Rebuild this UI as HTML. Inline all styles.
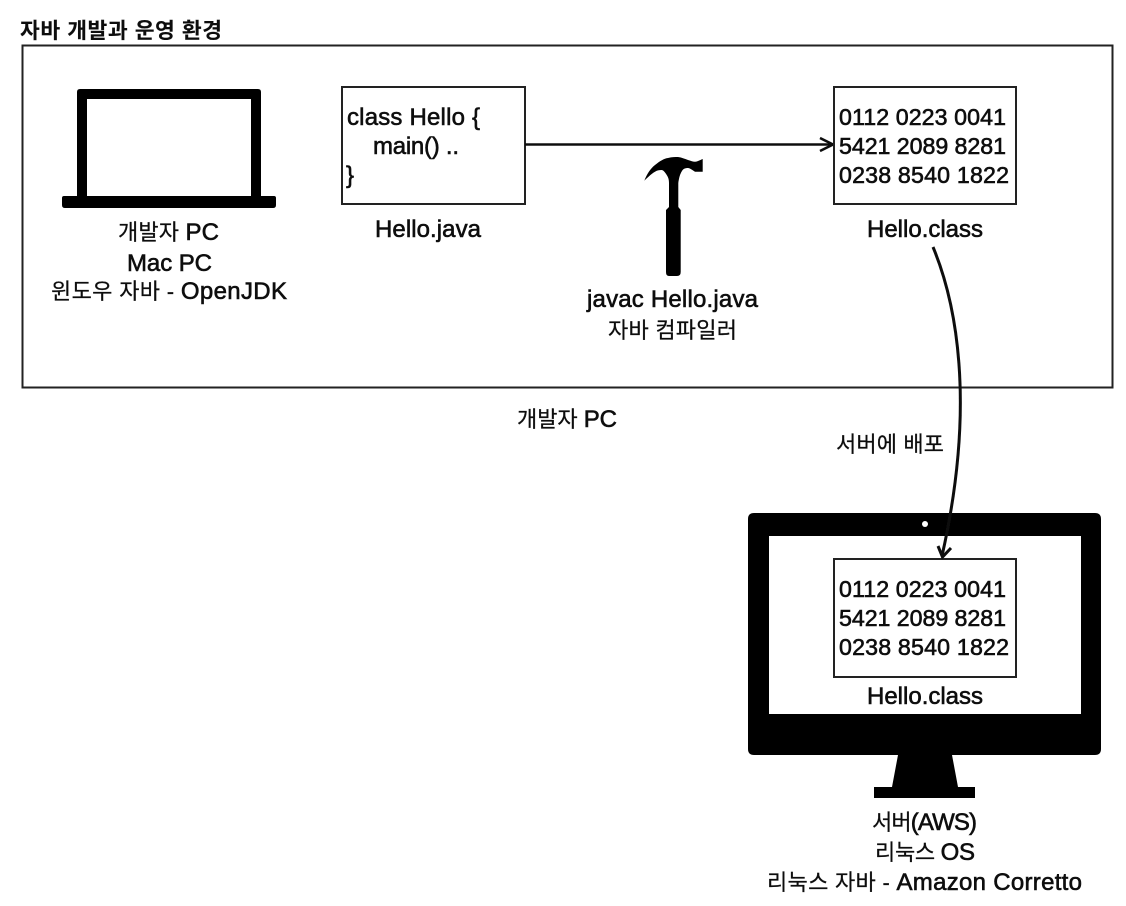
<!DOCTYPE html>
<html lang="ko">
<head>
<meta charset="utf-8">
<style>
html,body{margin:0;padding:0;background:#fff;width:1126px;height:906px;overflow:hidden}
svg{display:block}
text{font-family:"Liberation Sans","Noto Sans CJK KR",sans-serif;font-size:24px;fill:#111;stroke:#111;stroke-width:.6}
.n{font-size:23.2px}
.k{font-size:22px;stroke-width:.25}
tspan.l{font-size:24px;stroke-width:.6}
</style>
</head>
<body>
<svg width="1126" height="906" viewBox="0 0 1126 906" xmlns="http://www.w3.org/2000/svg">
<defs><filter id="b" x="-2%" y="-2%" width="104%" height="104%"><feGaussianBlur stdDeviation="0.35"/></filter></defs>
<rect width="1126" height="906" fill="#fff"/>
<g filter="url(#b)">
<text x="20" y="38" textLength="202" style="font-size:21.5px;font-weight:bold;stroke-width:.1">자바 개발과 운영 환경</text>
<rect x="22.5" y="45.5" width="1090" height="342" fill="none" stroke="#222" stroke-width="2"/>

<!-- laptop -->
<path fill-rule="evenodd" fill="#000" d="M80 89H258Q261 89 261 92V196H274Q276 196 276 198V205Q276 208 273 208H65Q62 208 62 205V198Q62 196 64 196H77V92Q77 89 80 89ZM87 99V196H251V99Z"/>
<text class="k" x="118" y="240" textLength="101">개발자 <tspan class="l">PC</tspan></text>
<text x="127" y="271" textLength="85">Mac PC</text>
<text class="k" x="51" y="299" textLength="236">윈도우 자바 - <tspan class="l">OpenJDK</tspan></text>

<!-- code box -->
<rect x="342" y="87" width="183" height="117" fill="#fff" stroke="#222" stroke-width="2"/>
<text x="347" y="125" textLength="133">class Hello {</text>
<text x="373" y="154" textLength="86">main() ..</text>
<text x="346" y="183">}</text>
<text x="375" y="237" textLength="106">Hello.java</text>

<!-- arrow -->
<path d="M525 144.5H832" fill="none" stroke="#111" stroke-width="2.6"/>
<path d="M820 138L833 144.5L820 151" fill="none" stroke="#111" stroke-width="2.6"/>

<!-- bytecode box -->
<rect x="834" y="87" width="182" height="117" fill="#fff" stroke="#222" stroke-width="2"/>
<text class="n" x="839" y="125" textLength="167">0112 0223 0041</text>
<text class="n" x="839" y="154" textLength="167">5421 2089 8281</text>
<text class="n" x="839" y="183" textLength="170">0238 8540 1822</text>
<text x="867" y="237" textLength="116">Hello.class</text>

<!-- hammer -->
<path fill="#000" d="M644.3 180.7C647 174 650 169 655 165C660 161 664 158.5 668 158C672 157 675 157 678 157C682 157.5 685 159 688 160C691 161 693 161.7 695 161.7C698 161.5 700 160 702.7 159V171.7H695C692 170 690 168 688 168C685 168 683 169 682 171C680 174 679 178 678.3 183V207L680.7 210V272Q680.7 276 677 276H669Q666 276 666 272V210L669 207V183C669 179 668 177 666.7 175C665 172 663 170 661.7 170C659 170 657 170.5 655 171.7C651 174 647 178 644.3 180.7Z"/>
<text x="587" y="307" textLength="171">javac Hello.java</text>
<text class="k" x="608" y="338" textLength="129">자바 컴파일러</text>

<text class="k" x="517" y="427" textLength="100">개발자 <tspan class="l">PC</tspan></text>
<text class="k" x="836" y="452" textLength="108">서버에 배포</text>

<!-- monitor -->
<path fill-rule="evenodd" fill="#000" d="M754 513H1095Q1101 513 1101 519V749Q1101 755 1095 755H952L958 787H975V798H874V787H892L898 755H754Q748 755 748 749V519Q748 513 754 513ZM769 536V714H1081V536Z"/>
<circle cx="925" cy="524" r="3" fill="#fff"/>
<rect x="834" y="559" width="182" height="118" fill="#fff" stroke="#222" stroke-width="2"/>
<text class="n" x="839" y="597" textLength="167">0112 0223 0041</text>
<text class="n" x="839" y="626" textLength="167">5421 2089 8281</text>
<text class="n" x="839" y="655" textLength="170">0238 8540 1822</text>
<text x="867" y="704" textLength="116">Hello.class</text>

<!-- curved connector -->
<path d="M933 247C955 300 977 400 942 556" fill="none" stroke="#111" stroke-width="3"/>
<path d="M938 546L942.5 557L951 548" fill="none" stroke="#111" stroke-width="3"/>

<text class="k" x="872" y="830" textLength="105">서버<tspan class="l">(AWS)</tspan></text>
<text class="k" x="875" y="860" textLength="100">리눅스 <tspan class="l">OS</tspan></text>
<text class="k" x="767" y="890" textLength="315">리눅스 자바 - <tspan class="l">Amazon Corretto</tspan></text>
</g>
</svg>
</body>
</html>
